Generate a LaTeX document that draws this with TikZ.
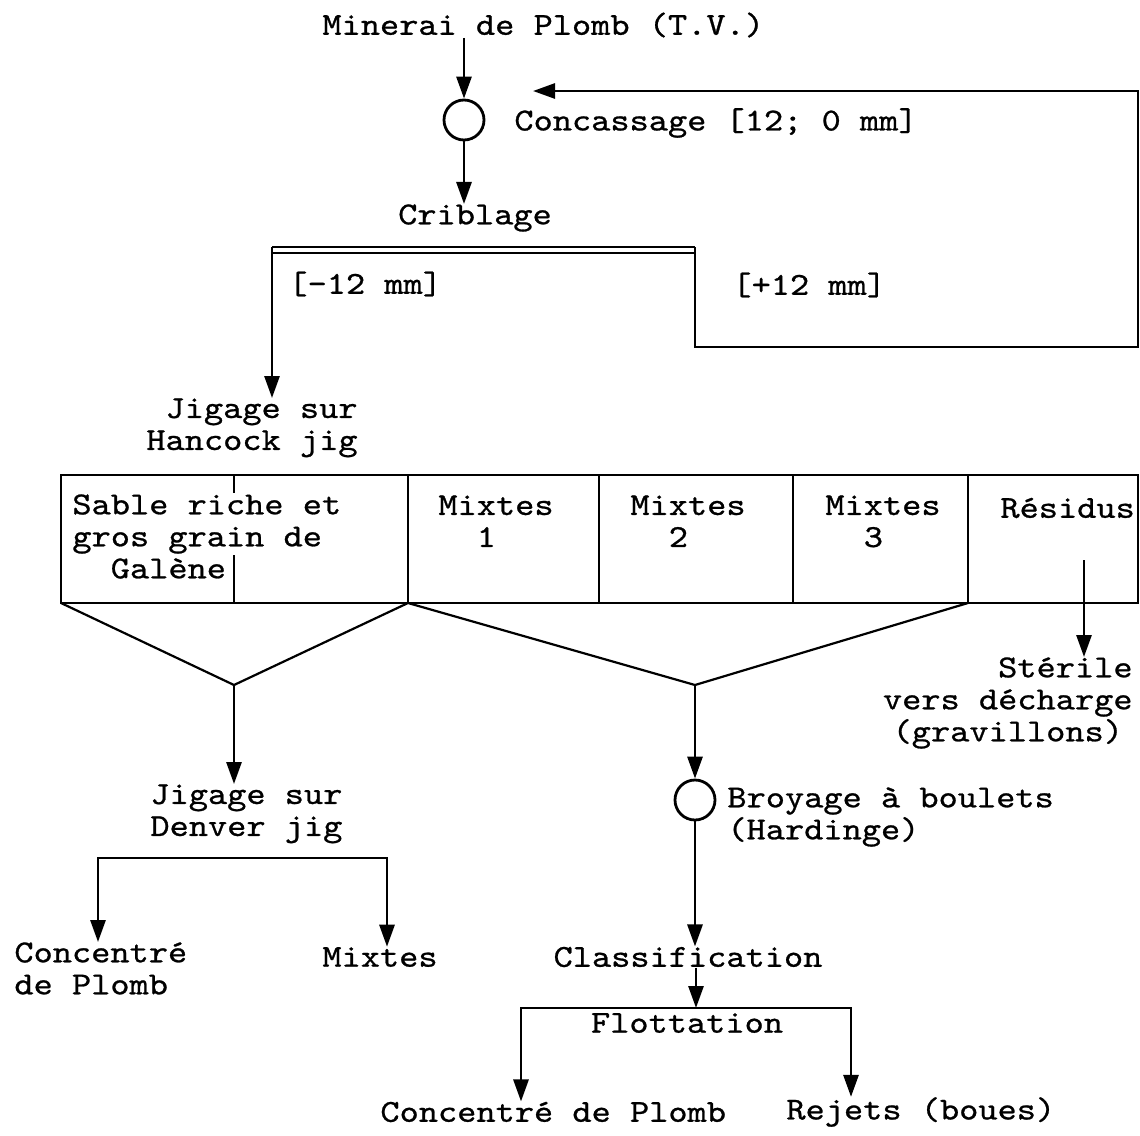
\documentclass[tikz,border=0pt]{standalone}
\usepackage{fontspec}
\newfontfamily\machine{lmmono10-regular.otf}[FakeStretch=1.143, FakeBold=0.8]
\usepackage{tikz}
\usetikzlibrary{arrows.meta}

\begin{document}
\frenchspacing
\begin{tikzpicture}[x=0.5pt, y=-0.5pt,
	every node/.style={font=\machine\fontsize{16}{16}\selectfont, inner sep=0pt},
	>={Triangle[length=11pt, width=7.5pt]},
	flux/.style={line width=1.4pt},
	cadre/.style={line width=1.1pt},
	broyeur/.style={circle, draw, line width=1.4pt, minimum size=20pt}]
	\useasboundingbox (0,0) rectangle (1140,1135);
	\node[anchor=west] (minerai) at (322,25) {Minerai de Plomb (T.V.)};
	\node[broyeur] (concasseur) at (464,120) {};
	\node[anchor=west] (concassage) at (514,123) {Concassage [12; 0 mm]};
	\node (criblage) at (475,218) {Criblage};
	\draw[flux, ->] (concasseur|-minerai.south) -- (concasseur);
	\draw[flux, ->] (concasseur) -- (concasseur|-criblage.north);
	\coordinate (cribleG) at (272,247);
	\coordinate (cribleD) at (695,247);
	\coordinate (coinB) at (1138,347);
	\coordinate (retour) at (533,91);
	\draw[flux] (cribleG) -- (cribleD);
	\draw[line width=0.6pt] ([yshift=-3pt]cribleG) -- ([yshift=-3pt]cribleD);
	\draw[flux, ->] (cribleD) |- (coinB) |- (retour);
	\node[anchor=west] (moins) at (288,284) {[-12 mm]};
	\node[anchor=west] (plus) at (732,285) {[+12 mm]};
	\node[anchor=north east, align=right] (hancock) at (358,398) {Jigage sur\\Hancock jig};
	\draw[flux, ->] (cribleG) -- (cribleG|-hancock.north);
	\draw[cadre] (61,475) rectangle (1138,603);
	\foreach \xc in {408,599,793,968} {\draw[cadre] (\xc,475) -- (\xc,603);}
	\draw[cadre] (234,475) -- (234,493) (234,555) -- (234,603);
	\node[anchor=north west, align=left] (sable) at (72,494) {Sable riche et\\gros grain de\\\ \ Galène};
	\node[anchor=north west, align=left] (mixtes1) at (438,495) {Mixtes\\\ \ 1};
	\node[anchor=north west, align=left] (mixtes2) at (630,495) {Mixtes\\\ \ 2};
	\node[anchor=north west, align=left] (mixtes3) at (825,495) {Mixtes\\\ \ 3};
	\node[anchor=west] (residus) at (1000,508) {Résidus};
	\coordinate (t0) at (61,603);
	\coordinate (t1) at (408,603);
	\coordinate (t4) at (968,603);
	\coordinate (vG) at (234,685);
	\coordinate (vD) at (695,685);
	\draw[cadre] (t0) -- (vG) -- (t1) -- (vD) -- (t4);
	\coordinate (resbas) at (1084,560);
	\node[anchor=north east, align=right] (sterile) at (1133,657) {Stérile\\vers décharge\\(gravillons)\hspace*{.3em}};
	\draw[flux, ->] (resbas) -- (resbas|-sterile.north);
	\node[anchor=north west, align=left] (denver) at (150,784) {Jigage sur\\Denver jig};
	\draw[flux, ->] (vG) -- (vG|-denver.north);
	\node[broyeur] (hardinge) at (695,800) {};
	\node[anchor=north west, align=left] (broyage) at (727,787) {Broyage à boulets\\(Hardinge)};
	\draw[flux, ->] (vD) -- (hardinge);
	\node (classif) at (688,957) {Classification};
	\draw[flux, ->] (hardinge) -- (hardinge|-classif.north);
	\coordinate (dG) at (98,858);
	\coordinate (dD) at (387,858);
	\node[anchor=north west, align=left] (concA) at (14,942) {Concentré\\de Plomb};
	\node[anchor=west] (mixtesB) at (322,957) {Mixtes};
	\draw[flux, <->] (concA.north-|dG) |- (dD) -- (mixtesB.north-|dD);
	\coordinate (fG) at (521,1008);
	\coordinate (fM) at (696,1008);
	\coordinate (fD) at (851,1008);
	\node (flottation) at (687,1023) {Flottation};
	\node[anchor=west] (concB) at (380,1112) {Concentré de Plomb};
	\node[anchor=west] (rejets) at (786,1112) {Rejets (boues)};
	\draw[flux, ->] (classif.south-|fM) -- (fM);
	\draw[flux, <->] (concB.north-|fG) |- (fD) -- (rejets.north-|fD);
\end{tikzpicture}
\end{document}
